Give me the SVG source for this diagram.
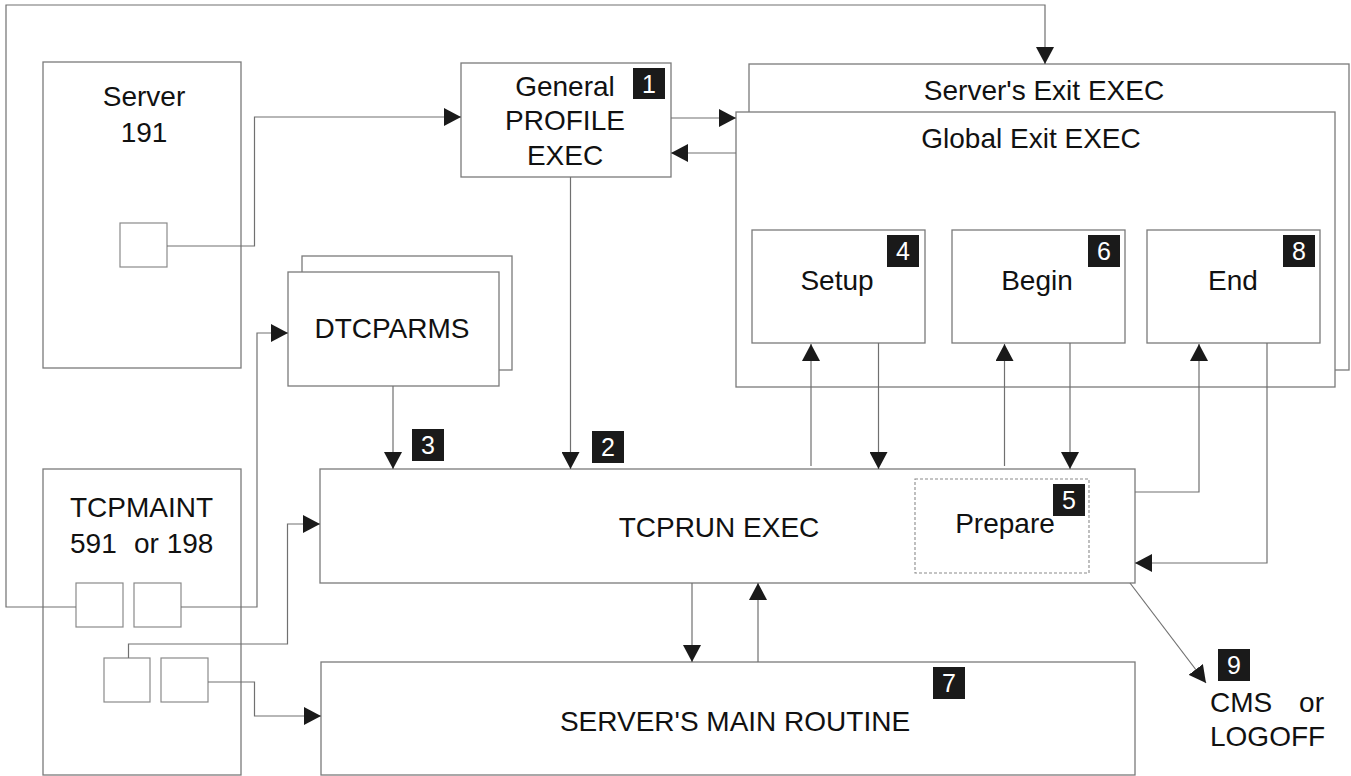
<svg xmlns="http://www.w3.org/2000/svg" width="1351" height="776" viewBox="0 0 1351 776">
<defs>
<style>
.box{fill:#fff;stroke:#7a7a7a;stroke-width:1.3}
.sm{fill:#fff;stroke:#8a8a8a;stroke-width:1.2}
.dash{fill:none;stroke:#8a8a8a;stroke-width:1.1;stroke-dasharray:3 2}
.t{font-family:"Liberation Sans",Arial,sans-serif;font-size:28px;fill:#111}
.c{text-anchor:middle}
.bg{fill:#1a1a1a}
.bn{font-family:"Liberation Sans",Arial,sans-serif;font-size:25px;fill:#fff;text-anchor:middle}
.ln{fill:none;stroke:#707070;stroke-width:1.2}
</style>
<marker id="ah" markerWidth="18" markerHeight="18" refX="17" refY="9" orient="auto" markerUnits="userSpaceOnUse">
<path d="M0,0 L17,9 L0,18 z" fill="#1a1a1a"/>
</marker>
</defs>
<rect width="1351" height="776" fill="#fff"/>

<g id="server191">
<rect class="box" x="43" y="62" width="198" height="306"/>
<text class="t c" x="144" y="106">Server</text>
<text class="t c" x="144" y="142">191</text>
<rect class="sm" x="120" y="223" width="47" height="44"/>
</g>

<g id="general-profile">
<rect class="box" x="461" y="63" width="210" height="114"/>
<text class="t c" x="565" y="96">General</text>
<text class="t c" x="565" y="130">PROFILE</text>
<text class="t c" x="565" y="165">EXEC</text>
<rect class="bg" x="633" y="68" width="32" height="31"/>
<text class="bn" x="649" y="93">1</text>
</g>

<g id="dtcparms">
<rect class="box" x="302" y="256" width="210" height="114"/>
<rect class="box" x="288" y="272" width="211" height="114"/>
<text class="t c" x="392" y="338">DTCPARMS</text>
</g>

<g id="server-exit">
<rect class="box" x="749" y="64" width="600" height="306"/>
<text class="t c" x="1044" y="100">Server's Exit EXEC</text>
</g>

<g id="global-exit">
<rect class="box" x="736" y="112" width="599" height="275"/>
<text class="t c" x="1031" y="148">Global Exit EXEC</text>
</g>

<g id="setup">
<rect class="box" x="752" y="230" width="173" height="113"/>
<text class="t c" x="837" y="290">Setup</text>
<rect class="bg" x="887" y="235" width="32" height="32"/>
<text class="bn" x="903" y="260">4</text>
</g>

<g id="begin">
<rect class="box" x="952" y="230" width="173" height="113"/>
<text class="t c" x="1037" y="290">Begin</text>
<rect class="bg" x="1088" y="235" width="32" height="32"/>
<text class="bn" x="1104" y="260">6</text>
</g>

<g id="end">
<rect class="box" x="1147" y="230" width="173" height="113"/>
<text class="t c" x="1233" y="290">End</text>
<rect class="bg" x="1283" y="235" width="32" height="32"/>
<text class="bn" x="1299" y="260">8</text>
</g>

<g id="tcprun">
<rect class="box" x="320" y="469" width="815" height="114"/>
<text class="t c" x="719" y="537">TCPRUN EXEC</text>
<rect class="dash" x="915" y="479" width="174" height="94"/>
<text class="t c" x="1005" y="533">Prepare</text>
<rect class="bg" x="1053" y="484" width="32" height="32"/>
<text class="bn" x="1069" y="509">5</text>
</g>

<g id="tcpmaint">
<rect class="box" x="43" y="469" width="198" height="306"/>
<text class="t" x="70" y="517">TCPMAINT</text>
<text class="t" x="70" y="553">591</text>
<text class="t" x="134" y="553">or 198</text>
<rect class="sm" x="76" y="583" width="47" height="44"/>
<rect class="sm" x="134" y="583" width="47" height="44"/>
<rect class="sm" x="104" y="658" width="46" height="44"/>
<rect class="sm" x="161" y="658" width="47" height="44"/>
</g>

<g id="main-routine">
<rect class="box" x="321" y="662" width="814" height="113"/>
<text class="t c" x="735" y="731">SERVER'S MAIN ROUTINE</text>
<rect class="bg" x="933" y="667" width="32" height="32"/>
<text class="bn" x="949" y="692">7</text>
</g>

<g id="cms-logoff">
<rect class="bg" x="1218" y="649" width="32" height="32"/>
<text class="bn" x="1234" y="674">9</text>
<text class="t" x="1210" y="712">CMS</text>
<text class="t" x="1324" y="712" text-anchor="end">or</text>
<text class="t" x="1210" y="746">LOGOFF</text>
</g>

<g id="step-badges">
<rect class="bg" x="412" y="429" width="32" height="32"/>
<text class="bn" x="428" y="454">3</text>
<rect class="bg" x="592" y="431" width="32" height="32"/>
<text class="bn" x="608" y="456">2</text>
</g>

<g id="connectors" class="ln">
<path class="ln" d="M76,607 H6 V5 H1045 V64" marker-end="url(#ah)"/>
<path class="ln" d="M167,246 H254.5 V117 H461" marker-end="url(#ah)"/>
<path class="ln" d="M671,118 H736" marker-end="url(#ah)"/>
<path class="ln" d="M736,153 H671" marker-end="url(#ah)"/>
<path class="ln" d="M570.5,177 V469" marker-end="url(#ah)"/>
<path class="ln" d="M393,386 V469" marker-end="url(#ah)"/>
<path class="ln" d="M181,607 H257 V333 H288" marker-end="url(#ah)"/>
<path class="ln" d="M128.5,658 V644 H287.5 V524 H320" marker-end="url(#ah)"/>
<path class="ln" d="M208,682 H254.5 V716 H321" marker-end="url(#ah)"/>
<path class="ln" d="M811,466 V344" marker-end="url(#ah)"/>
<path class="ln" d="M878.5,343 V469" marker-end="url(#ah)"/>
<path class="ln" d="M1004.5,466 V344" marker-end="url(#ah)"/>
<path class="ln" d="M1070,343 V469" marker-end="url(#ah)"/>
<path class="ln" d="M1135,492 H1199 V344" marker-end="url(#ah)"/>
<path class="ln" d="M1267,343 V563 H1135" marker-end="url(#ah)"/>
<path class="ln" d="M692,583 V662" marker-end="url(#ah)"/>
<path class="ln" d="M758,662 V583" marker-end="url(#ah)"/>
<path class="ln" d="M1130,583 L1206,683" marker-end="url(#ah)"/>
</g>
</svg>
